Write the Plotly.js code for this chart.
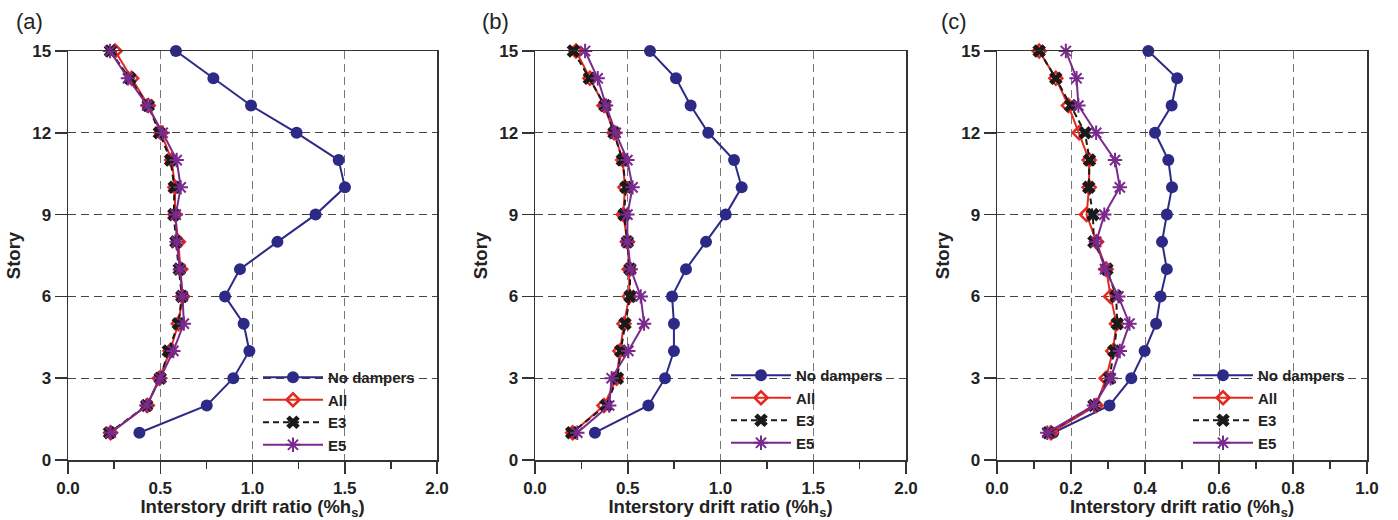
<!DOCTYPE html>
<html>
<head>
<meta charset="utf-8">
<script src="https://cdn.plot.ly/plotly-3.0.1.min.js"></script>
<style>html,body{margin:0;padding:0;background:#fff;}#chart{width:1398px;height:520px;}</style>
</head>
<body>
<div id="chart"></div>
<script>
const stories = [15,14,13,12,11,10,9,8,7,6,5,4,3,2,1];
const seriesNames = ["No dampers","All","E3","E5"];
const panelLabels = ["(a)","(b)","(c)"];

// Panel (a)
const a_noDampers = [0.585,0.788,0.992,1.239,1.467,1.501,1.342,1.135,0.932,0.851,0.952,0.983,0.896,0.752,0.387];
const a_all       = [0.255,0.345,0.435,0.504,0.562,0.580,0.580,0.598,0.611,0.621,0.598,0.553,0.495,0.430,0.231];
const a_e3        = [0.230,0.335,0.435,0.495,0.556,0.576,0.574,0.585,0.603,0.617,0.598,0.544,0.500,0.426,0.225];
const a_e5        = [0.228,0.325,0.430,0.513,0.589,0.611,0.584,0.589,0.607,0.621,0.628,0.571,0.500,0.426,0.231];

// Panel (b)
const b_noDampers = [0.620,0.760,0.839,0.934,1.073,1.114,1.028,0.922,0.814,0.739,0.749,0.749,0.701,0.611,0.323];
const b_all       = [0.221,0.296,0.372,0.426,0.473,0.485,0.476,0.498,0.508,0.508,0.480,0.458,0.440,0.372,0.203];
const b_e3        = [0.207,0.293,0.377,0.426,0.471,0.490,0.480,0.498,0.512,0.512,0.485,0.462,0.444,0.383,0.198];
const b_e5        = [0.270,0.338,0.383,0.435,0.498,0.526,0.498,0.498,0.516,0.570,0.588,0.503,0.413,0.400,0.228];

// Panel (c)
const c_noDampers = [0.409,0.487,0.472,0.427,0.463,0.473,0.459,0.446,0.459,0.442,0.430,0.399,0.363,0.304,0.152];
const c_all       = [0.114,0.159,0.193,0.222,0.249,0.249,0.242,0.269,0.295,0.307,0.323,0.313,0.295,0.268,0.146];
const c_e3        = [0.114,0.159,0.199,0.238,0.250,0.248,0.259,0.262,0.297,0.322,0.325,0.316,0.304,0.262,0.139];
const c_e5        = [0.186,0.215,0.220,0.268,0.319,0.332,0.290,0.268,0.292,0.328,0.358,0.332,0.307,0.262,0.136];

const xRanges = [[0,2],[0,2],[0,1]];
const xDticks = [0.5,0.5,0.2];
const xMinorDticks = [0.25,0.25,0.1];
const yTicks = [0,3,6,9,12,15];

const panels = [
  [a_noDampers,a_all,a_e3,a_e5],
  [b_noDampers,b_all,b_e3,b_e5],
  [c_noDampers,c_all,c_e3,c_e5]
];

const NAVY = "#2c2a86", RED = "#e8281e", BLACK = "#1a1a1a", PURPLE = "#7a2a8c";
const styles = [
  {line:{color:NAVY,width:2}, marker:{symbol:"circle",size:12,color:NAVY}},
  {line:{color:RED,width:2}, marker:{symbol:"diamond-open",size:10,color:RED,line:{color:RED,width:2.5}}},
  {line:{color:BLACK,width:2,dash:"6px,4px"}, marker:{symbol:"x",size:12,color:BLACK,line:{width:0}}},
  {line:{color:PURPLE,width:2}, marker:{symbol:"asterisk-open",size:12,color:PURPLE,line:{color:PURPLE,width:2}}}
];

const FONT = "Liberation Sans, Arial, Helvetica, sans-serif";
const W = 1398, H = 520;
const xDomPx = [[68,437],[535,906],[997,1367]];
const yDom = [(H-460)/H, (H-51)/H];
const legendPos = [[258,361],[726,359],[1188,359]];
const labelPos = [[29,22],[495,22],[954,22]];

const traces = [];
panels.forEach((p, pi) => {
  const sfx = pi === 0 ? "" : String(pi+1);
  p.forEach((vals, si) => {
    traces.push(Object.assign({
      type: "scatter", mode: "lines+markers",
      x: vals, y: stories, name: seriesNames[si],
      xaxis: "x" + sfx, yaxis: "y" + sfx,
      legend: "legend" + sfx,
      cliponaxis: false
    }, JSON.parse(JSON.stringify(styles[si]))));
  });
});

const layout = {
  width: W, height: H,
  margin: {l:0, r:0, t:0, b:0},
  paper_bgcolor: "#fff", plot_bgcolor: "#fff",
  font: {family: FONT, color: "#222"},
  annotations: [],
  showlegend: true
};

panels.forEach((p, pi) => {
  const sfx = pi === 0 ? "" : String(pi+1);
  layout["xaxis" + sfx] = {
    domain: [xDomPx[pi][0]/W, xDomPx[pi][1]/W],
    anchor: "y" + sfx,
    range: xRanges[pi], autorange: false,
    dtick: xDticks[pi], tick0: 0, tickformat: ".1f",
    ticks: "outside", ticklen: 12, tickwidth: 1.5, tickcolor: "#333",
    minor: {dtick: xMinorDticks[pi], ticks: "outside", ticklen: 7, tickwidth: 1.5, tickcolor: "#333", showgrid: false},
    showline: true, mirror: true, linecolor: "#333", linewidth: 1.5,
    showgrid: true, gridcolor: "#777", griddash: "8px,5px", gridwidth: 1,
    zeroline: false, automargin: false,
    tickfont: {family: FONT, size: 17, weight: "bold", color: "#222"},
    title: {text: "Interstory drift ratio (%h<sub>s</sub>)", standoff: 2,
            font: {family: FONT, size: 18.5, weight: "bold", color: "#222"}}
  };
  layout["yaxis" + sfx] = {
    domain: yDom,
    anchor: "x" + sfx,
    range: [0,15], autorange: false,
    tickvals: yTicks,
    ticks: "outside", ticklen: 12, tickwidth: 1.5, tickcolor: "#333",
    showline: true, mirror: true, linecolor: "#333", linewidth: 1.5,
    showgrid: true, gridcolor: "#444", griddash: "8px,5px", gridwidth: 1,
    zeroline: false, automargin: false,
    tickfont: {family: FONT, size: 17, weight: "bold", color: "#222"},
    title: {text: "Story", standoff: 6,
            font: {family: FONT, size: 18.5, weight: "bold", color: "#222"}}
  };
  layout["legend" + sfx] = {
    x: legendPos[pi][0]/W, y: (H - legendPos[pi][1])/H,
    xanchor: "left", yanchor: "top",
    xref: "paper", yref: "paper",
    bgcolor: "rgba(0,0,0,0)", borderwidth: 0,
    itemwidth: 60,
    tracegroupgap: 0,
    font: {family: FONT, size: 15, weight: "bold", color: "#222"}
  };
  layout.annotations.push({
    text: panelLabels[pi], xref: "paper", yref: "paper",
    x: labelPos[pi][0]/W, y: (H - labelPos[pi][1])/H,
    xanchor: "center", yanchor: "middle", showarrow: false,
    font: {family: FONT, size: 22, color: "#222"}
  });
});

Plotly.newPlot("chart", traces, layout, {displayModeBar: false, staticPlot: true});
</script>
</body>
</html>
